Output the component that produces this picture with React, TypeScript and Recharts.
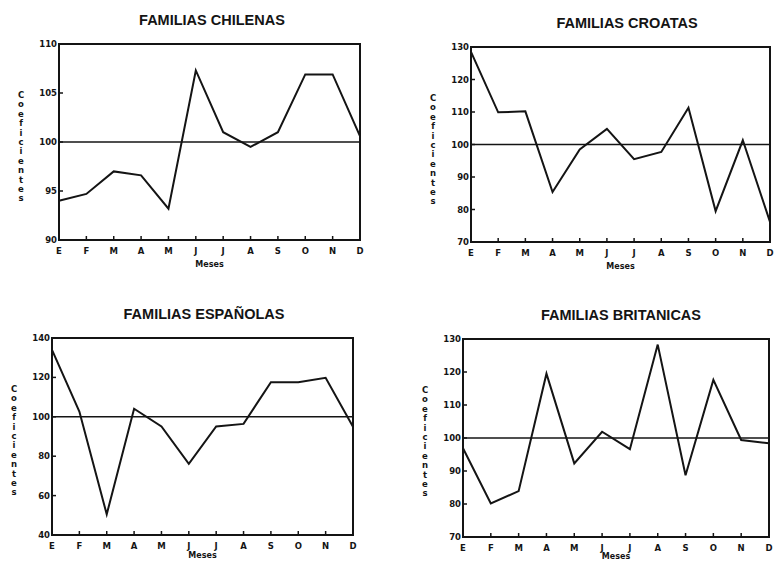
import React from "react";
import { LineChart, Line, XAxis, YAxis, ReferenceLine, ReferenceArea } from "recharts";

const MONTHS = ["E", "F", "M", "A", "M", "J", "J", "A", "S", "O", "N", "D"];

const CHILENAS = [94.0, 94.7, 97.0, 96.6, 93.2, 107.3, 101.0, 99.5, 101.0, 106.9, 106.9, 100.6];
const CROATAS = [128.5, 109.9, 110.2, 85.4, 98.5, 104.8, 95.5, 97.7, 111.3, 79.5, 101.3, 76.2];
const ESPANOLAS = [134.0, 102.7, 50.5, 104.1, 95.1, 76.1, 95.1, 96.4, 117.6, 117.6, 119.8, 95.0];
const BRITANICAS = [96.9, 80.2, 83.9, 119.5, 92.3, 101.9, 96.6, 128.3, 88.7, 117.6, 99.4, 98.4];

const TICKS_CHILE = [90, 95, 100, 105, 110];
const TICKS_CROACIA = [70, 80, 90, 100, 110, 120, 130];
const TICKS_ESPANA = [40, 60, 80, 100, 120, 140];
const TICKS_BRETANA = [70, 80, 90, 100, 110, 120, 130];

const IDX = MONTHS.map((_, i) => i);
const INK = "#141414";
const SMALL = "'DejaVu Sans', sans-serif";

function toRows(values: number[]) {
  return MONTHS.map((m, i) => ({ i, m, v: values[i] }));
}

function XTick({ x, y, payload }: any) {
  return (
    <g>
      <line x1={x} x2={x} y1={y - 4} y2={y} stroke={INK} strokeWidth={1.5} />
      <text x={x} y={y + 14} textAnchor="middle" fontFamily={SMALL} fontWeight="bold" fontSize={8.5} fill={INK}>
        {MONTHS[payload.value]}
      </text>
    </g>
  );
}

function YTick({ x, y, payload }: any) {
  return (
    <g>
      <line x1={x} x2={x + 4} y1={y} y2={y} stroke={INK} strokeWidth={1.5} />
      <text x={x - 2} y={y + 3} textAnchor="end" fontFamily={SMALL} fontWeight="bold" fontSize={8.5} fill={INK}>
        {payload.value}
      </text>
    </g>
  );
}

interface PanelProps {
  title: string;
  values: number[];
  ticks: number[];
  left: number;
  top: number;
  w: number;
  h: number;
  titleX: number;
  mesesDy: number;
}

const ML = 50;
const MT = 10;
const MR = 4;

function Panel({ title, values, ticks, left, top, w, h, titleX, mesesDy }: PanelProps) {
  const lo = ticks[0];
  const hi = ticks[ticks.length - 1];
  return (
    <>
      <div
        style={{
          position: "absolute",
          left: titleX - 150,
          top: top - 32,
          width: 300,
          textAlign: "center",
          fontFamily: "'Liberation Sans', Arial, sans-serif",
          fontWeight: "bold",
          fontSize: 14.5,
          lineHeight: "16px",
          color: INK,
        }}
      >
        {title}
      </div>
      <div style={{ position: "absolute", left: left - ML, top: top - MT }}>
        <LineChart
          width={w + ML + MR}
          height={h + MT + 30}
          data={toRows(values)}
          margin={{ top: MT, right: MR, left: 10, bottom: 0 }}
        >
          <XAxis
            dataKey="i"
            type="number"
            domain={[0, 11]}
            ticks={IDX}
            interval={0}
            height={30}
            tickSize={0}
            tickMargin={0}
            tickLine={false}
            axisLine={{ stroke: INK, strokeWidth: 2 }}
            tick={<XTick />}
            label={{
              content: () => (
                <text
                  x={ML + w / 2}
                  y={MT + h + mesesDy}
                  textAnchor="middle"
                  fontFamily={SMALL}
                  fontWeight="bold"
                  fontSize={8}
                  fill={INK}
                >
                  Meses
                </text>
              ),
            }}
          />
          <YAxis
            type="number"
            domain={[lo, hi]}
            ticks={ticks}
            width={40}
            tickSize={0}
            tickMargin={0}
            tickLine={false}
            axisLine={{ stroke: INK, strokeWidth: 2 }}
            tick={<YTick />}
            label={{
              content: () => (
                <text fontFamily={SMALL} fontWeight="bold" fontSize={8.5} fill={INK} textAnchor="middle">
                  {"Coeficientes".split("").map((c, k) => (
                    <tspan key={k} x={ML - 38} y={MT + 54 + k * 9.4}>
                      {c}
                    </tspan>
                  ))}
                </text>
              ),
            }}
          />
          <ReferenceArea x1={0} x2={11} y1={lo} y2={hi} fill="none" stroke={INK} strokeWidth={2} />
          <ReferenceLine y={100} stroke={INK} strokeWidth={1.5} />
          <Line
            type="linear"
            dataKey="v"
            stroke={INK}
            strokeWidth={2}
            dot={false}
            isAnimationActive={false}
          />
        </LineChart>
      </div>
    </>
  );
}

export default function App() {
  return (
    <div
      style={{
        position: "absolute",
        left: 0,
        top: 0,
        width: 776,
        height: 561,
        overflow: "hidden",
        background: "#fff",
      }}
    >
      <Panel title="FAMILIAS CHILENAS" values={CHILENAS} ticks={TICKS_CHILE} left={59} top={44} w={301} h={196} titleX={212} mesesDy={27} />
      <Panel title="FAMILIAS CROATAS" values={CROATAS} ticks={TICKS_CROACIA} left={471} top={47} w={299} h={195} titleX={627} mesesDy={27} />
      <Panel title="FAMILIAS ESPAÑOLAS" values={ESPANOLAS} ticks={TICKS_ESPANA} left={52} top={338} w={301} h={197} titleX={204} mesesDy={23} />
      <Panel title="FAMILIAS BRITANICAS" values={BRITANICAS} ticks={TICKS_BRETANA} left={463} top={339} w={306} h={198} titleX={621} mesesDy={22} />
    </div>
  );
}
